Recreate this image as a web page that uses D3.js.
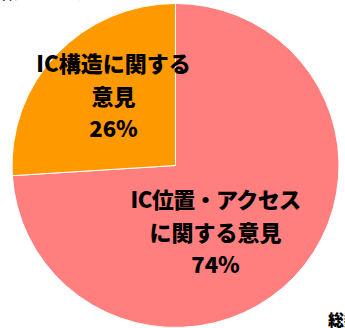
<!DOCTYPE html>
<html>
<head>
<meta charset="utf-8">
<script src="https://cdn.jsdelivr.net/npm/d3@7/dist/d3.min.js"></script>
<style>
  html, body { margin: 0; padding: 0; background: #fff; }
  svg { display: block; }
  text { font-family: "Noto Sans CJK JP", "Noto Sans", sans-serif; font-weight: 900; fill: #000; }
</style>
</head>
<body>
<svg id="chart" width="345" height="328"></svg>
<script>
// Opinion categories and their shares (%)
const categories = ["IC位置・アクセスに関する意見", "IC構造に関する意見"];
const values = [74, 26];
const labelLines = [["IC位置・アクセス", "に関する意見", "74%"], ["IC構造に関する", "意見", "26%"]];
const colors = ["#FF7F7F", "#FF9900"];

const W = 345, H = 328;
const cx = 175.5, cy = 165.5, r = 163.5, ry = 162;

const svg = d3.select("#chart");

// Title line running off the top edge
svg.append("text")
  .attr("x", 84).attr("y", -1.5)
  .attr("text-anchor", "end")
  .style("font-size", "18px")
  .text("意見の分類について");

const pie = d3.pie().sort(null).value(d => d)(values);
const arc = d3.arc().innerRadius(0).outerRadius(r);

const g = svg.append("g")
  .attr("transform", `translate(${cx},${cy}) scale(1,${ry / r})`);

g.selectAll("path")
  .data(pie)
  .join("path")
  .attr("d", arc)
  .attr("fill", (d, i) => colors[i])
  .attr("stroke", "#fff")
  .attr("stroke-width", 1);

// Multi-line labels inside each slice
const labelPos = [[215.5, 208], [113.5, 72]];
const lineGap = 32.5;
const labels = svg.selectAll("g.lbl")
  .data(pie)
  .join("g")
  .attr("class", "lbl");

labels.each(function (d, i) {
  const sel = d3.select(this);
  labelLines[i].forEach((t, k) => {
    sel.append("text")
      .attr("x", labelPos[i][0])
      .attr("y", labelPos[i][1] + k * lineGap)
      .attr("text-anchor", "middle")
      .style("font-size", "22px")
      .style("letter-spacing", i === 0 && k === 0 ? "-0.6px" : null)
      .text(t);
  });
});

// Footnote running off the right edge
svg.append("text")
  .attr("x", 328).attr("y", 326)
  .style("font-size", "16px")
  .text("総数");
</script>
</body>
</html>
